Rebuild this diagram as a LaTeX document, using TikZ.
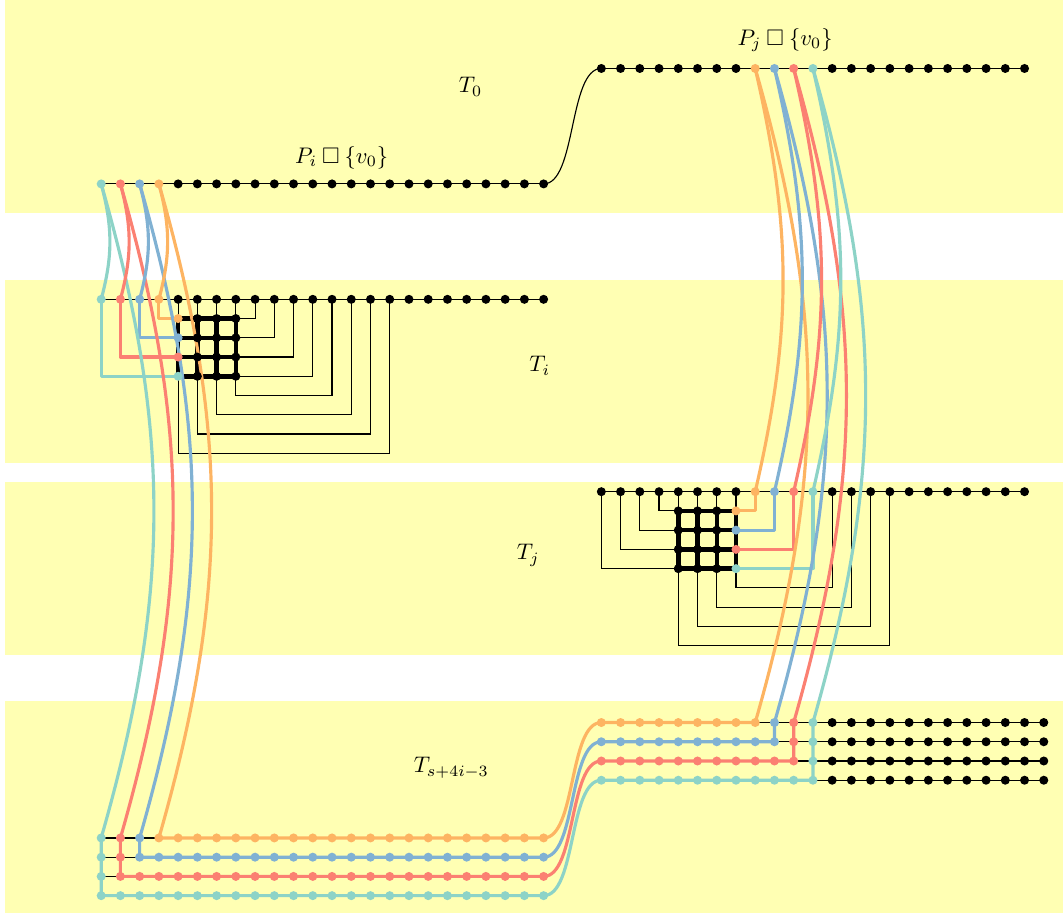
\documentclass[tikz,border=0pt]{standalone}
\usepackage{amssymb}
\definecolor{cT}{HTML}{8DD3C7}
\definecolor{cR}{HTML}{FB8072}
\definecolor{cB}{HTML}{80B1D3}
\definecolor{cO}{HTML}{FDB462}
\definecolor{bandc}{HTML}{FFFFB3}
\pgfdeclarelayer{back}
\pgfdeclarelayer{edges}
\pgfsetlayers{back,edges,main}
\newcommand\drow[4]{\foreach \c in {#2,...,#3}{\node[pnt=#4] (p-\c-#1) at (\c,-#1) {};}}
\newcommand\onedot[3]{\node[pnt=#3] (p-#1-#2) at (#1,-#2) {};}
\begin{document}
\begin{tikzpicture}[x=0.3cm,y=0.3cm,
  pnt/.style={circle,fill=#1,inner sep=0pt,minimum size=4pt},
  lnk/.style={line width=0.5pt,black},
  route/.style={line width=1.4pt,draw=#1,line cap=round,line join=round},
  gridln/.style={line width=2pt,black},
  scurve/.style={out=0,in=180,looseness=0.65}]
\useasboundingbox (-5.26,3.56) rectangle (50,-44);
\begin{pgfonlayer}{back}
\fill[bandc] (-5,3.6) rectangle (50,-7.5);
\fill[bandc] (-5,-11) rectangle (50,-20.5);
\fill[bandc] (-5,-21.5) rectangle (50,-30.5);
\fill[bandc] (-5,-32.9) rectangle (50,-43.9);
\end{pgfonlayer}
% ---------- dots ----------
% T0 upper row
\drow{0}{26}{33}{black}
\onedot{34}{0}{cO}\onedot{35}{0}{cB}\onedot{36}{0}{cR}\onedot{37}{0}{cT}
\drow{0}{38}{48}{black}
% T0 lower row
\onedot{0}{6}{cT}\onedot{1}{6}{cR}\onedot{2}{6}{cB}\onedot{3}{6}{cO}
\drow{6}{4}{23}{black}
% Ti row
\onedot{0}{12}{cT}\onedot{1}{12}{cR}\onedot{2}{12}{cB}\onedot{3}{12}{cO}
\drow{12}{4}{23}{black}
% Ti grid
\onedot{4}{13}{cO}\onedot{4}{14}{cB}\onedot{4}{15}{cR}\onedot{4}{16}{cT}
\foreach \r in {13,...,16}{\drow{\r}{5}{7}{black}}
% Tj row
\drow{22}{26}{33}{black}
\onedot{34}{22}{cO}\onedot{35}{22}{cB}\onedot{36}{22}{cR}\onedot{37}{22}{cT}
\drow{22}{38}{48}{black}
% Tj grid
\foreach \r in {23,...,26}{\drow{\r}{30}{32}{black}}
\onedot{33}{23}{cO}\onedot{33}{24}{cB}\onedot{33}{25}{cR}\onedot{33}{26}{cT}
% bottom upper rows
\drow{34}{26}{34}{cO}\onedot{35}{34}{cB}\onedot{36}{34}{cR}\onedot{37}{34}{cT}\drow{34}{38}{49}{black}
\drow{35}{26}{35}{cB}\onedot{36}{35}{cR}\onedot{37}{35}{cT}\drow{35}{38}{49}{black}
\drow{36}{26}{36}{cR}\onedot{37}{36}{cT}\drow{36}{38}{49}{black}
\drow{37}{26}{37}{cT}\drow{37}{38}{49}{black}
% bottom lower rows
\onedot{0}{40}{cT}\onedot{1}{40}{cR}\onedot{2}{40}{cB}\drow{40}{3}{23}{cO}
\onedot{0}{41}{cT}\onedot{1}{41}{cR}\drow{41}{2}{23}{cB}
\onedot{0}{42}{cT}\drow{42}{1}{23}{cR}
\drow{43}{0}{23}{cT}
% ---------- labels ----------
\node (lT0) at (19.2,-0.96) {$T_0$};
\node (lPi) at (12.5,-4.65) {$P_i \mathbin{\square} \{v_0\}$};
\node (lPj) at (35.55,1.48) {$P_j \mathbin{\square} \{v_0\}$};
\node (lTi) at (22.8,-15.46) {$T_i$};
\node (lTj) at (22.2,-25.3) {$T_j$};
\node (lTs) at (18.2,-36.35) {$T_{s+4i-3}$};
% ---------- edges ----------
\begin{pgfonlayer}{edges}
% T0
\draw[lnk] (p-0-6.center) -- (p-23-6.center);
\draw[lnk] (p-26-0.center) -- (p-48-0.center);
\draw[lnk] (p-23-6.center) to[scurve] (p-26-0.center);
% Ti
\draw[lnk] (p-0-12.center) -- (p-23-12.center);
\foreach \c in {4,...,7} \draw[lnk] (p-\c-12.center) -- (p-\c-13.center);
\foreach \c/\r in {8/13,9/14,10/15,11/16} \draw[lnk] (p-\c-12.center) |- (p-7-\r.center);
\foreach \c/\d/\g in {12/5/7,13/6/6,14/7/5,15/8/4} \draw[lnk] (p-\c-12.center) -- ++(0,-\d) -| (p-\g-16.center);
\foreach \r in {13,...,16} \draw[gridln] (p-4-\r.center) -- (p-7-\r.center);
\foreach \c in {4,...,7} \draw[gridln] (p-\c-13.center) -- (p-\c-16.center);
\foreach \c/\r/\col in {3/13/cO,2/14/cB,1/15/cR,0/16/cT} \draw[route=\col] (p-\c-12.center) |- (p-4-\r.center);
% Tj
\draw[lnk] (p-26-22.center) -- (p-48-22.center);
\foreach \c in {30,...,33} \draw[lnk] (p-\c-22.center) -- (p-\c-23.center);
\foreach \c/\r in {29/23,28/24,27/25,26/26} \draw[lnk] (p-\c-22.center) |- (p-30-\r.center);
\foreach \c/\d/\g in {38/5/33,39/6/32,40/7/31,41/8/30} \draw[lnk] (p-\c-22.center) -- ++(0,-\d) -| (p-\g-26.center);
\foreach \r in {23,...,26} \draw[gridln] (p-30-\r.center) -- (p-33-\r.center);
\foreach \c in {30,...,33} \draw[gridln] (p-\c-23.center) -- (p-\c-26.center);
\foreach \c/\r/\col in {34/23/cO,35/24/cB,36/25/cR,37/26/cT} \draw[route=\col] (p-\c-22.center) |- (p-33-\r.center);
% bottom thin
\draw[lnk] (p-0-40.center) -- (p-3-40.center);
\draw[lnk] (p-0-41.center) -- (p-2-41.center);
\draw[lnk] (p-0-42.center) -- (p-1-42.center);
\draw[lnk] (p-34-34.center) -- (p-49-34.center);
\draw[lnk] (p-35-35.center) -- (p-49-35.center);
\draw[lnk] (p-36-36.center) -- (p-49-36.center);
\draw[lnk] (p-37-37.center) -- (p-49-37.center);
% bottom thick
\draw[route=cO] (p-3-40.center) -- (p-23-40.center) to[scurve] (p-26-34.center) -- (p-34-34.center);
\draw[route=cB] (p-2-40.center) -- (p-2-41.center) -- (p-23-41.center) to[scurve] (p-26-35.center) -- (p-35-35.center) -- (p-35-34.center);
\draw[route=cR] (p-1-40.center) -- (p-1-42.center) -- (p-23-42.center) to[scurve] (p-26-36.center) -- (p-36-36.center) -- (p-36-34.center);
\draw[route=cT] (p-0-40.center) -- (p-0-43.center) -- (p-23-43.center) to[scurve] (p-26-37.center) -- (p-37-37.center) -- (p-37-34.center);
% long curves
\foreach \c/\col in {0/cT,1/cR,2/cB,3/cO}{
  \draw[route=\col] (p-\c-6.center) to[bend left=15] (p-\c-12.center);
  \draw[route=\col] (p-\c-6.center) to[bend left=16] (p-\c-40.center);}
\foreach \c/\col in {34/cO,35/cB,36/cR,37/cT}{
  \draw[route=\col] (p-\c-0.center) to[bend left=13] (p-\c-22.center);
  \draw[route=\col] (p-\c-0.center) to[bend left=16] (p-\c-34.center);}
\end{pgfonlayer}
\end{tikzpicture}
\end{document}
